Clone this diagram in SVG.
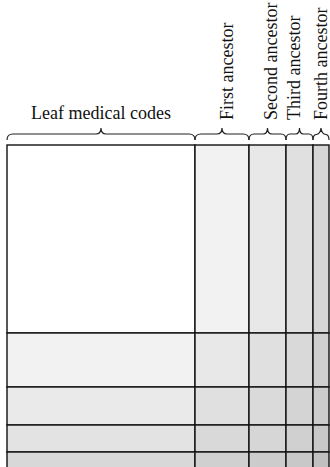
<svg xmlns="http://www.w3.org/2000/svg" width="330" height="467" viewBox="0 0 330 467">
<style>
.lbl{font-family:"Liberation Serif","Times New Roman",serif;font-size:18px;fill:#111;}
.brace{fill:none;stroke:#222;stroke-width:1.2;}
.cell{stroke:#111;stroke-width:1.4;}
</style>
<rect width="330" height="467" fill="#fff"/>
<g id="headers">
<g id="leaf-header">
<text class="lbl" x="101" y="119" text-anchor="middle">Leaf medical codes</text>
<path class="brace" d="M7 140 Q7 134 13 134 L96 134 Q101 134 101 128 Q101 134 106 134 L189 134 Q195 134 195 140"/>
</g>
<g id="first-header">
<text class="lbl" transform="translate(233,120) rotate(-90)">First ancestor</text>
<path class="brace" d="M195 140 Q195 134 201 134 L217 134 Q222 134 222 128 Q222 134 227 134 L243 134 Q249 134 249 140"/>
</g>
<g id="second-header">
<text class="lbl" transform="translate(277,120) rotate(-90)">Second ancestor</text>
<path class="brace" d="M249 140 Q249 134 254 134 L263 134 Q267.5 134 267.5 128 Q267.5 134 272 134 L281 134 Q286 134 286 140"/>
</g>
<g id="third-header">
<text class="lbl" transform="translate(300,120) rotate(-90)">Third ancestor</text>
<path class="brace" d="M286 140 Q286 134 290 134 L295.5 134 Q299.5 134 299.5 128 Q299.5 134 303.5 134 L309 134 Q313 134 313 140"/>
</g>
<g id="fourth-header">
<text class="lbl" transform="translate(327,120) rotate(-90)">Fourth ancestor</text>
<path class="brace" d="M313 140 Q313 135 316 134.5 Q320.5 134 321 128 Q321.5 134 326 134.5 Q329 135 329 140"/>
</g>
</g>
<g id="table">
<g id="row1">
<rect class="cell" x="7" y="145" width="188" height="188" fill="#ffffff"/>
<rect class="cell" x="195" y="145" width="54" height="188" fill="#f2f2f2"/>
<rect class="cell" x="249" y="145" width="37" height="188" fill="#e8e8e8"/>
<rect class="cell" x="286" y="145" width="27" height="188" fill="#e0e0e0"/>
<rect class="cell" x="313" y="145" width="16" height="188" fill="#d6d6d6"/>
</g>
<g id="row2">
<rect class="cell" x="7" y="333" width="188" height="54" fill="#f2f2f2"/>
<rect class="cell" x="195" y="333" width="54" height="54" fill="#e8e8e8"/>
<rect class="cell" x="249" y="333" width="37" height="54" fill="#e0e0e0"/>
<rect class="cell" x="286" y="333" width="27" height="54" fill="#d9d9d9"/>
<rect class="cell" x="313" y="333" width="16" height="54" fill="#d0d0d0"/>
</g>
<g id="row3">
<rect class="cell" x="7" y="387" width="188" height="38" fill="#eaeaea"/>
<rect class="cell" x="195" y="387" width="54" height="38" fill="#e0e0e0"/>
<rect class="cell" x="249" y="387" width="37" height="38" fill="#dadada"/>
<rect class="cell" x="286" y="387" width="27" height="38" fill="#d4d4d4"/>
<rect class="cell" x="313" y="387" width="16" height="38" fill="#cccccc"/>
</g>
<g id="row4">
<rect class="cell" x="7" y="425" width="188" height="27" fill="#e3e3e3"/>
<rect class="cell" x="195" y="425" width="54" height="27" fill="#d9d9d9"/>
<rect class="cell" x="249" y="425" width="37" height="27" fill="#d6d6d6"/>
<rect class="cell" x="286" y="425" width="27" height="27" fill="#d0d0d0"/>
<rect class="cell" x="313" y="425" width="16" height="27" fill="#c8c8c8"/>
</g>
<g id="row5">
<rect class="cell" x="7" y="452" width="188" height="30" fill="#d8d8d8"/>
<rect class="cell" x="195" y="452" width="54" height="30" fill="#d0d0d0"/>
<rect class="cell" x="249" y="452" width="37" height="30" fill="#cccccc"/>
<rect class="cell" x="286" y="452" width="27" height="30" fill="#c8c8c8"/>
<rect class="cell" x="313" y="452" width="16" height="30" fill="#c0c0c0"/>
</g>
</g>
</svg>
